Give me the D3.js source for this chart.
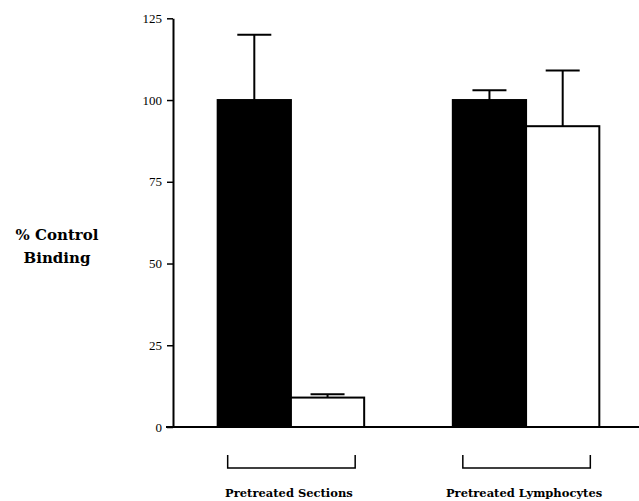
<!DOCTYPE html>
<html>
<head>
<meta charset="utf-8">
<script src="https://cdn.jsdelivr.net/npm/d3@7"></script>
<style>
  body { margin: 0; background: #fff; }
  svg text { font-family: "Liberation Serif", "DejaVu Serif", serif; }
  svg text.bold { font-family: "DejaVu Serif", serif; font-weight: bold; }
</style>
</head>
<body>
<div id="chart"></div>
<script>
// groups along the x axis, two bars each
const groups = ["Pretreated Sections", "Pretreated Lymphocytes"];
const series = ["control", "pretreated"];
const controlValues = [100, 100];
const controlErrors = [20, 3];
const treatedValues = [9, 92];
const treatedErrors = [1, 17];
const yTicks = [0, 25, 50, 75, 100, 125];

const width = 639;
const height = 501;

const svg = d3.select("#chart")
  .append("svg")
  .attr("width", width)
  .attr("height", height);

const x = d3.scaleBand()
  .domain(groups)
  .range([173, 644])
  .paddingInner(0.377)
  .paddingOuter(0.19);

const xSub = d3.scaleBand()
  .domain(series)
  .range([0, x.bandwidth()]);

const y = d3.scaleLinear()
  .domain([0, 125])
  .range([427, 18.3]);

const data = [];
groups.forEach((g, i) => {
  data.push({ group: g, key: "control", value: controlValues[i], err: controlErrors[i] });
  data.push({ group: g, key: "pretreated", value: treatedValues[i], err: treatedErrors[i] });
});

// error bars first, so the black bar covers the lower part
svg.selectAll(".err")
  .data(data)
  .enter()
  .append("g")
  .attr("class", "err")
  .each(function (d) {
    const cx = x(d.group) + xSub(d.key) + xSub.bandwidth() / 2;
    const g = d3.select(this);
    g.append("line")
      .attr("x1", cx).attr("x2", cx)
      .attr("y1", y(d.value)).attr("y2", y(d.value + d.err))
      .attr("stroke", "#000").attr("stroke-width", 2);
    g.append("line")
      .attr("x1", cx - 17).attr("x2", cx + 17)
      .attr("y1", y(d.value + d.err)).attr("y2", y(d.value + d.err))
      .attr("stroke", "#000").attr("stroke-width", 2);
  });

svg.selectAll(".bar")
  .data(data)
  .enter()
  .append("rect")
  .attr("class", "bar")
  .attr("x", (d) => x(d.group) + xSub(d.key))
  .attr("y", (d) => y(d.value))
  .attr("width", xSub.bandwidth())
  .attr("height", (d) => y(0) - y(d.value))
  .attr("fill", (d) => (d.key === "control" ? "#000" : "#fff"))
  .attr("stroke", "#000")
  .attr("stroke-width", 2);

// y axis
const yAxis = svg.append("g")
  .attr("transform", "translate(173,0)")
  .call(d3.axisLeft(y).tickValues(yTicks).tickSize(6).tickSizeOuter(0).tickPadding(5));
yAxis.select(".domain").attr("stroke-width", 2);
yAxis.selectAll(".tick line").attr("stroke-width", 1.5);
yAxis.selectAll(".tick text")
  .style("font-family", "'Liberation Serif', serif")
  .style("font-size", "13px")
  .attr("fill", "#000");

// baseline across the whole plot
svg.append("line")
  .attr("x1", 166).attr("x2", width)
  .attr("y1", y(0)).attr("y2", y(0))
  .attr("stroke", "#000").attr("stroke-width", 2);

// brackets under each group
groups.forEach((g) => {
  const x0 = x(g) + 10;
  const x1 = x(g) + x.bandwidth() - 9;
  svg.append("path")
    .attr("d", `M${x0},455 V468 H${x1} V455`)
    .attr("fill", "none")
    .attr("stroke", "#000")
    .attr("stroke-width", 1.5);
  svg.append("text")
    .attr("class", "bold")
    .attr("x", x(g) + x.bandwidth() / 2 - 2)
    .attr("y", 497)
    .attr("text-anchor", "middle")
    .style("font-size", "11.5px")
    .text(g);
});

// y axis title
const title = svg.append("text")
  .attr("class", "bold")
  .attr("text-anchor", "middle")
  .style("font-size", "15px");
title.append("tspan").attr("x", 57).attr("y", 240).text("% Control");
title.append("tspan").attr("x", 57).attr("y", 263).text("Binding");
</script>
</body>
</html>
